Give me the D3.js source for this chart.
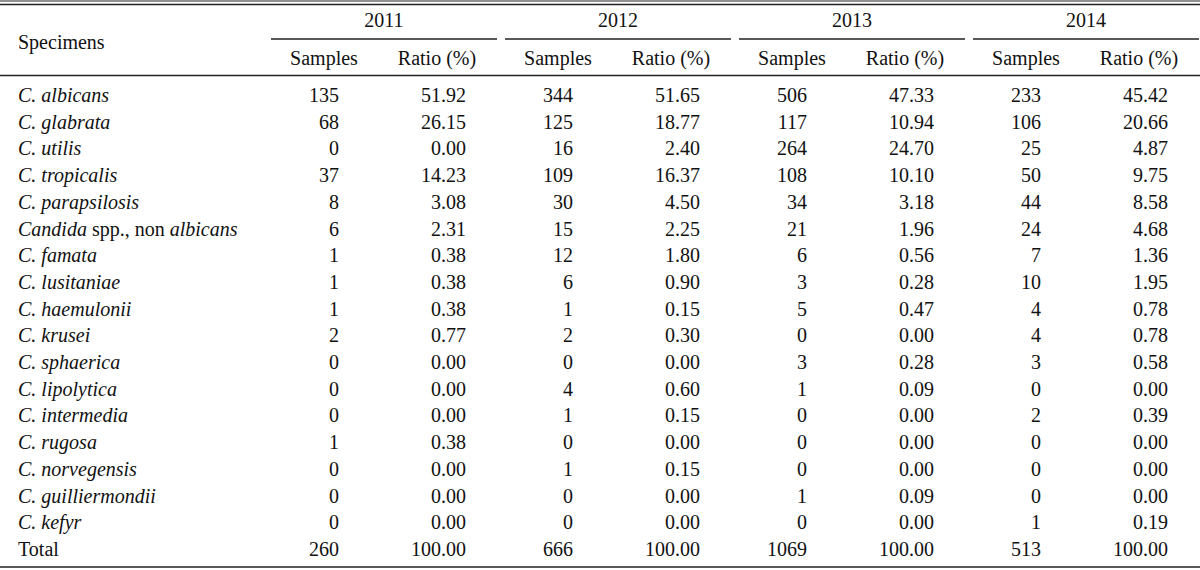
<!DOCTYPE html>
<html>
<head>
<meta charset="utf-8">
<script src="https://cdn.jsdelivr.net/npm/d3@7"></script>
<style>
  body { margin: 0; background: #fff; }
  text { font-family: "Liberation Serif", "Times New Roman", serif; font-size: 20px; fill: #111; }
</style>
</head>
<body>
<div id="main-container"></div>
<script>
var width = 1200,
    height = 570

// names use *...* for the italic parts
var species = ["*C. albicans*", "*C. glabrata*", "*C. utilis*", "*C. tropicalis*", "*C. parapsilosis*",
  "*Candida* spp., non *albicans*", "*C. famata*", "*C. lusitaniae*", "*C. haemulonii*", "*C. krusei*",
  "*C. sphaerica*", "*C. lipolytica*", "*C. intermedia*", "*C. rugosa*", "*C. norvegensis*",
  "*C. guilliermondii*", "*C. kefyr*", "Total"]

var years = ["2011", "2012", "2013", "2014"]
var subCols = ["Samples", "Ratio (%)"]

var samples2011 = [135, 68, 0, 37, 8, 6, 1, 1, 1, 2, 0, 0, 0, 1, 0, 0, 0, 260]
var ratio2011 = [51.92, 26.15, 0.00, 14.23, 3.08, 2.31, 0.38, 0.38, 0.38, 0.77, 0.00, 0.00, 0.00, 0.38, 0.00, 0.00, 0.00, 100.00]
var samples2012 = [344, 125, 16, 109, 30, 15, 12, 6, 1, 2, 0, 4, 1, 0, 1, 0, 0, 666]
var ratio2012 = [51.65, 18.77, 2.40, 16.37, 4.50, 2.25, 1.80, 0.90, 0.15, 0.30, 0.00, 0.60, 0.15, 0.00, 0.15, 0.00, 0.00, 100.00]
var samples2013 = [506, 117, 264, 108, 34, 21, 6, 3, 5, 0, 3, 1, 0, 0, 0, 1, 0, 1069]
var ratio2013 = [47.33, 10.94, 24.70, 10.10, 3.18, 1.96, 0.56, 0.28, 0.47, 0.00, 0.28, 0.09, 0.00, 0.00, 0.00, 0.09, 0.00, 100.00]
var samples2014 = [233, 106, 25, 50, 44, 24, 7, 10, 4, 4, 3, 0, 2, 0, 0, 0, 1, 513]
var ratio2014 = [45.42, 20.66, 4.87, 9.75, 8.58, 4.68, 1.36, 1.95, 0.78, 0.78, 0.58, 0.00, 0.39, 0.00, 0.00, 0.00, 0.19, 100.00]

var samplesByYear = [samples2011, samples2012, samples2013, samples2014]
var ratioByYear = [ratio2011, ratio2012, ratio2013, ratio2014]

var svg = d3.select("#main-container").append("svg")
  .attr("width", width)
  .attr("height", height)

var x = d3.scaleBand()
  .domain(years)
  .range([271, 1199])
  .paddingInner(8 / 234)

var y = d3.scalePoint()
  .domain(d3.range(species.length))
  .range([95, 549])

var rule = function(x1, x2, yy, w) {
  svg.append("line")
    .attr("x1", x1).attr("x2", x2)
    .attr("y1", yy).attr("y2", yy)
    .attr("stroke", "#222")
    .attr("stroke-width", w)
}

// rules
rule(0, width, 1, 1)
rule(0, width, 4.5, 1.3)
rule(0, width, 75.5, 1.3)
rule(0, width, 567, 1.3)
years.forEach(function(yr) {
  rule(x(yr), x(yr) + x.bandwidth(), 39, 1.3)
})

// header
svg.append("text")
  .attr("x", 18).attr("y", 42)
  .attr("dy", "0.35em")
  .text("Specimens")

var head = svg.append("g").attr("class", "head")

head.selectAll(".year")
  .data(years)
  .enter()
  .append("text")
    .attr("x", function(d) { return x(d) + x.bandwidth() / 2 })
    .attr("y", 20)
    .attr("dy", "0.35em")
    .attr("text-anchor", "middle")
    .text(function(d) { return d })

var subHeadX = [53, 166]   // centres within a year group
var numRight = [68, 195]   // right edges of numbers within a year group

years.forEach(function(yr) {
  subCols.forEach(function(c, j) {
    head.append("text")
      .attr("x", x(yr) + subHeadX[j])
      .attr("y", 58)
      .attr("dy", "0.35em")
      .attr("text-anchor", "middle")
      .text(c)
  })
})

// specimen names
var names = svg.append("g")
names.selectAll("text")
  .data(species)
  .enter()
  .append("text")
    .attr("x", 18)
    .attr("y", function(d, i) { return y(i) })
    .attr("dy", "0.35em")
    .each(function(d) {
      var t = d3.select(this)
      d.split("*").forEach(function(part, k) {
        if (part === "") return
        t.append("tspan")
          .attr("font-style", k % 2 === 1 ? "italic" : "normal")
          .text(part)
      })
    })

// numbers
years.forEach(function(yr, yi) {
  var g = svg.append("g")
  g.selectAll(".s")
    .data(samplesByYear[yi])
    .enter()
    .append("text")
      .attr("x", x(yr) + numRight[0])
      .attr("y", function(d, i) { return y(i) })
      .attr("dy", "0.35em")
      .attr("text-anchor", "end")
      .text(function(d) { return d })
  g.selectAll(".r")
    .data(ratioByYear[yi])
    .enter()
    .append("text")
      .attr("x", x(yr) + numRight[1])
      .attr("y", function(d, i) { return y(i) })
      .attr("dy", "0.35em")
      .attr("text-anchor", "end")
      .text(function(d) { return d3.format(".2f")(d) })
})
</script>
</body>
</html>
